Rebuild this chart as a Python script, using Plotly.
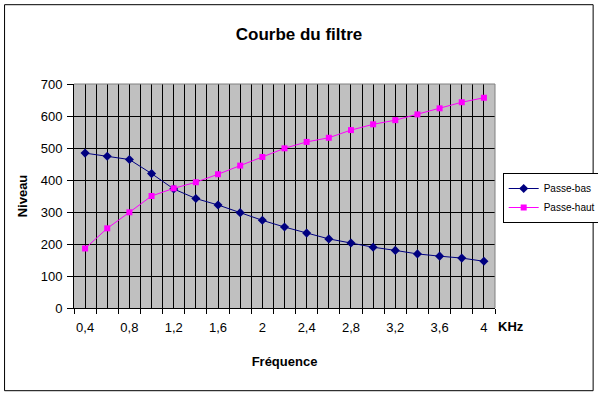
import plotly.graph_objects as go

freq = [0.4, 0.6, 0.8, 1.0, 1.2, 1.4, 1.6, 1.8, 2.0, 2.2, 2.4, 2.6, 2.8, 3.0, 3.2, 3.4, 3.6, 3.8, 4.0]
passe_bas = [484, 474, 464, 420, 372, 342, 322, 298, 274, 253, 234, 216, 203, 190, 180, 169, 162, 156, 146]
passe_haut = [186, 249, 299, 350, 374, 393, 418, 445, 472, 499, 519, 532, 556, 574, 587, 605, 624, 643, 657]
label_vals = [0.4, 0.8, 1.2, 1.6, 2.0, 2.4, 2.8, 3.2, 3.6, 4.0]
label_text = ["0,4", "0,8", "1,2", "1,6", "2", "2,4", "2,8", "3,2", "3,6", "4"]

FONT = "Liberation Sans, Arial, sans-serif"
W, H = 598, 396
L, R, T, B = 74, 598 - 495.3, 84.3, 396 - 308.3
pw, ph = W - L - R, H - T - B

def px2paper_x(px):
    return (px - L) / pw

def px2paper_y(py):
    return (H - B - py) / ph

fig = go.Figure()
fig.add_trace(go.Scatter(
    x=freq, y=passe_bas, name="Passe-bas", mode="lines+markers",
    line=dict(color="#000080", width=1),
    marker=dict(symbol="diamond", size=7, color="#000080"),
    xaxis="x", yaxis="y"))
fig.add_trace(go.Scatter(
    x=freq, y=passe_haut, name="Passe-haut", mode="lines+markers",
    line=dict(color="#FF00FF", width=1),
    marker=dict(symbol="square", size=6, color="#FF00FF"),
    xaxis="x2", yaxis="y"))

xr = [freq[0] - 0.1, freq[-1] + 0.1]

fig.update_layout(
    width=W, height=H,
    margin=dict(l=L, r=R, t=T, b=B, autoexpand=False),
    paper_bgcolor="white", plot_bgcolor="#C0C0C0",
    font=dict(family=FONT, size=13, color="black"),
    title=dict(text="<b>Courbe du filtre</b>", x=0.5, xanchor="center",
               y=1 - 34 / H, yanchor="middle", yref="container",
               font=dict(size=17, family=FONT, color="black")),
    showlegend=True,
    legend=dict(x=px2paper_x(503), y=px2paper_y(173.3), xanchor="left", yanchor="top",
                bordercolor="black", borderwidth=1, bgcolor="white",
                itemwidth=30, tracegroupgap=0,
                font=dict(size=10, family=FONT, color="black")),
    xaxis=dict(range=xr, tickmode="linear", tick0=xr[0], dtick=0.2,
               ticks="outside", ticklen=5, tickcolor="black", showticklabels=False,
               showgrid=True, gridcolor="black", gridwidth=1,
               minor=dict(tick0=0.4, dtick=0.2, showgrid=True, gridcolor="black", gridwidth=1, ticks=""),
               showline=True, linecolor="black", linewidth=1, zeroline=False,
               fixedrange=True),
    xaxis2=dict(range=xr, overlaying="x", anchor="y", side="bottom",
                tickmode="array", tickvals=label_vals, ticktext=label_text,
                ticks="", ticklen=0, ticklabelstandoff=10,
                showgrid=False, showline=False, zeroline=False,
                tickfont=dict(size=13, family=FONT, color="black"),
                title=dict(text="<b>Fréquence</b>", standoff=22,
                           font=dict(size=13, family=FONT, color="black"))),
    yaxis=dict(range=[0, 700], tickmode="linear", tick0=0, dtick=100,
               ticks="outside", ticklen=6, tickcolor="black", ticklabelstandoff=2,
               showgrid=True, gridcolor="black", gridwidth=1,
               showline=True, linecolor="black", linewidth=1, zeroline=False,
               tickfont=dict(size=13, family=FONT, color="black"),
               title=dict(text="<b>Niveau</b>", standoff=10,
                          font=dict(size=13, family=FONT, color="black"))),
    shapes=[
        dict(type="line", xref="paper", yref="paper", x0=0, x1=1, y0=1, y1=1,
             line=dict(color="#808080", width=1), layer="above"),
        dict(type="line", xref="paper", yref="paper", x0=1, x1=1, y0=0, y1=1,
             line=dict(color="#808080", width=1), layer="above"),
        dict(type="rect", xref="paper", yref="paper",
             x0=px2paper_x(4.5), x1=px2paper_x(593.5), y0=px2paper_y(5), y1=px2paper_y(391),
             line=dict(color="black", width=1), fillcolor="rgba(0,0,0,0)", layer="above"),
    ],
    annotations=[
        dict(text="<b>KHz</b>", xref="paper", yref="paper",
             x=px2paper_x(511), y=px2paper_y(327), xanchor="center", yanchor="middle",
             showarrow=False, font=dict(size=13, family=FONT, color="black")),
    ],
)

fig.write_html("out.html", config={"displayModeBar": False},
               post_script="document.body.style.margin='0';document.body.style.overflow='hidden';")
